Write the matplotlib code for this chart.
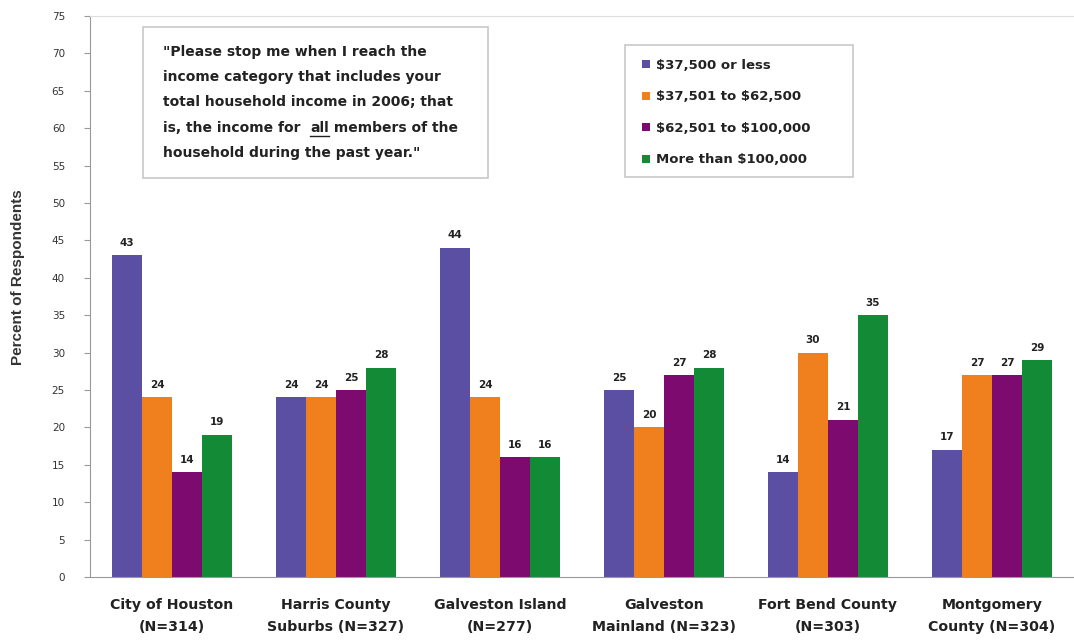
import numpy as np
import matplotlib.pyplot as plt
from matplotlib.patches import Rectangle

plt.rcParams['font.family'] = ['DejaVu Sans']

regions = ["City of Houston\n(N=314)", "Harris County\nSuburbs (N=327)",
           "Galveston Island\n(N=277)", "Galveston\nMainland (N=323)",
           "Fort Bend County\n(N=303)", "Montgomery\nCounty (N=304)"]
brackets = [r"\$37,500 or less", r"\$37,501 to \$62,500",
            r"\$62,501 to \$100,000", r"More than \$100,000"]
under_37500 = [43, 24, 44, 25, 14, 17]
from_37501 = [24, 24, 24, 20, 30, 27]
from_62501 = [14, 25, 16, 27, 21, 27]
over_100000 = [19, 28, 16, 28, 35, 29]
series = [under_37500, from_37501, from_62501, over_100000]
colors = ["#5A4FA2", "#F07F1E", "#7D0A6E", "#128A36"]

fig = plt.figure(figsize=(10.74, 6.4), dpi=100)
ax = fig.add_axes([90 / 1074, 63 / 640, 984 / 1074, 561 / 640])

x = np.arange(len(regions))
w = 0.183
for i, (vals, c) in enumerate(zip(series, colors)):
    pos = x + (i - 1.5) * w
    ax.bar(pos, vals, width=w, color=c, label=brackets[i], zorder=2)
    for px, v in zip(pos, vals):
        ax.text(px, v + 1.0, str(v), ha="center", va="bottom",
                fontsize=7.5, fontweight="bold", color="#222222")

ax.set_xlim(-0.5, 5.5)
ax.set_ylim(0, 75)
ax.set_yticks(range(0, 76, 5))
ax.tick_params(axis="y", labelsize=7.5, labelcolor="#333333", color="#999999",
               length=4, pad=14)
ax.set_xticks(x)
ax.set_xticklabels(regions, fontsize=10.2, fontweight="bold", color="#222222",
                   linespacing=1.7)
ax.tick_params(axis="x", length=0, pad=15)
for s in ["left", "bottom"]:
    ax.spines[s].set_color("#999999")
ax.spines["top"].set_color("#dddddd")
ax.spines["right"].set_visible(False)

fig.text(18 / 1074, 1 - 277 / 640, "Percent of Respondents", rotation=90,
         ha="center", va="center", fontsize=11, fontweight="bold",
         family="Liberation Sans", color="#333333")

# question wording box
fig.patches.append(Rectangle((143 / 1074, 1 - 178 / 640), 345 / 1074, 151 / 640,
                             transform=fig.transFigure, facecolor="white",
                             edgecolor="#c8c8c8", linewidth=1.2, zorder=3))
lines = ["\"Please stop me when I reach the",
         "income category that includes your",
         "total household income in 2006; that",
         None,
         "household during the past year.\""]
tx = 163 / 1074
for k, line in enumerate(lines):
    ty = 1 - (52 + k * 25.2) / 640
    if line is not None:
        fig.text(tx, ty, line, fontsize=10, fontweight="bold", color="#222222",
                 va="center", zorder=4)
        continue
    # fourth line with underlined "all"
    r = fig.canvas.get_renderer()
    xx = tx
    for part in ["is, the income for  ", "all", " members of the"]:
        t = fig.text(xx, ty, part, fontsize=10, fontweight="bold",
                     color="#222222", va="center", zorder=4)
        bb = t.get_window_extent(renderer=r).transformed(fig.transFigure.inverted())
        if part == "all":
            fig.lines.append(plt.Line2D([bb.x0, bb.x1], [bb.y0 - 0.002, bb.y0 - 0.002],
                                        transform=fig.transFigure, color="#222222",
                                        linewidth=1, zorder=4))
        xx = bb.x1

# legend box
fig.patches.append(Rectangle((625 / 1074, 1 - 177 / 640), 228 / 1074, 132 / 640,
                             transform=fig.transFigure, facecolor="white",
                             edgecolor="#c8c8c8", linewidth=1.2, zorder=3))
handles, labels = ax.get_legend_handles_labels()
leg = fig.legend(handles, labels, loc="upper left",
                 bbox_to_anchor=(638 / 1074, 1 - 55 / 640),
                 bbox_transform=fig.transFigure, fontsize=9.5, frameon=False,
                 handlelength=0.6, handleheight=0.6, handletextpad=0.5,
                 labelspacing=1.4, borderpad=0.3, borderaxespad=0)
leg.set_zorder(5)
for t in leg.get_texts():
    t.set_fontweight("bold")
    t.set_color("#222222")

fig.savefig("out.png", dpi=100)
